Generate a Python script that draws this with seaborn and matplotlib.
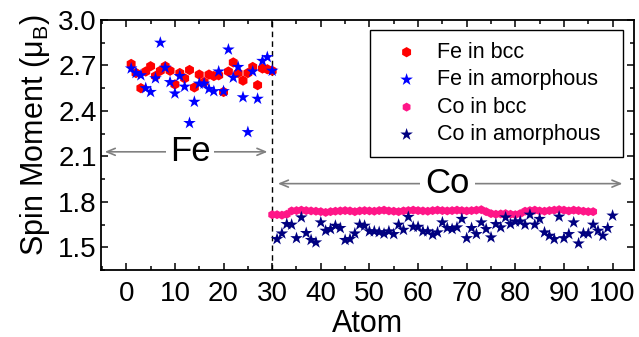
import matplotlib
matplotlib.use('Agg')
import matplotlib.pyplot as plt
import seaborn as sns
from matplotlib.ticker import MultipleLocator

# ---------------- data ----------------
fe_atoms = list(range(1, 31))
fe_bcc = [2.71, 2.65, 2.55, 2.66, 2.695, 2.63, 2.665, 2.695, 2.665, 2.575,
          2.65, 2.615, 2.67, 2.555, 2.64, 2.59, 2.64, 2.63, 2.635, 2.525,
          2.66, 2.72, 2.65, 2.60, 2.65, 2.69, 2.57, 2.68, 2.675, 2.665]
fe_amor = [2.68, 2.65, 2.635, 2.55, 2.525, 2.615, 2.85, 2.685, 2.59, 2.515,
           2.63, 2.56, 2.32, 2.46, 2.58, 2.58, 2.545, 2.53, 2.66, 2.53,
           2.805, 2.62, 2.69, 2.49, 2.26, 2.66, 2.48, 2.73, 2.755, 2.665]

co_bcc_atoms = list(range(30, 97))
co_bcc = [1.715, 1.715, 1.712, 1.718, 1.74, 1.742, 1.745, 1.742, 1.74, 1.738,
          1.735, 1.73, 1.735, 1.738, 1.74, 1.742, 1.74, 1.735, 1.74, 1.742,
          1.74, 1.738, 1.742, 1.745, 1.74, 1.738, 1.735, 1.74, 1.742, 1.745,
          1.742, 1.74, 1.738, 1.742, 1.745, 1.742, 1.74, 1.742, 1.745, 1.742,
          1.74, 1.742, 1.745, 1.748, 1.735, 1.722, 1.718, 1.72, 1.722, 1.718,
          1.715, 1.722, 1.738, 1.742, 1.745, 1.74, 1.738, 1.742, 1.745, 1.748,
          1.745, 1.74, 1.745, 1.742, 1.738, 1.735, 1.735]

co_amor_atoms = list(range(31, 101))
co_amor = [1.554, 1.591, 1.653, 1.649, 1.56, 1.697, 1.594, 1.548, 1.532, 1.664,
           1.609, 1.62, 1.642, 1.627, 1.548, 1.554, 1.591, 1.649, 1.642, 1.605,
           1.605, 1.60, 1.59, 1.605, 1.587, 1.649, 1.615, 1.70, 1.635, 1.635,
           1.605, 1.605, 1.583, 1.598, 1.664, 1.627, 1.62, 1.631, 1.687, 1.56,
           1.627, 1.587, 1.664, 1.62, 1.565, 1.653, 1.631, 1.697, 1.653, 1.67,
           1.67, 1.649, 1.715, 1.649, 1.687, 1.598, 1.576, 1.554, 1.702, 1.56,
           1.587, 1.664, 1.525, 1.591, 1.591, 1.649, 1.609, 1.576, 1.627, 1.709]

series_labels = ['Fe in bcc', 'Fe in amorphous', 'Co in bcc', 'Co in amorphous']
x_ticks = [0, 10, 20, 30, 40, 50, 60, 70, 80, 90, 100]
y_ticks = [1.5, 1.8, 2.1, 2.4, 2.7, 3.0]
region_labels = ['Fe', 'Co']

# ---------------- style ----------------
sns.set_style('ticks')
plt.rcParams['font.family'] = ['Liberation Sans', 'DejaVu Sans']
plt.rcParams['mathtext.fontset'] = 'custom'
plt.rcParams['mathtext.rm'] = 'Liberation Sans'
plt.rcParams['mathtext.it'] = 'Liberation Sans:italic'
plt.rcParams['text.color'] = 'black'
plt.rcParams['axes.labelcolor'] = 'black'
plt.rcParams['xtick.color'] = 'black'
plt.rcParams['ytick.color'] = 'black'

fig = plt.figure(figsize=(6.39, 3.37), dpi=100)
W, H = 639, 337
L, R, T, B = 101, 634, 20, 270
ax = fig.add_axes([L / W, 1 - B / H, (R - L) / W, (B - T) / H])

sns.scatterplot(x=fe_atoms, y=fe_bcc, marker='h', color='#ff0000', s=55,
                edgecolor='none', label=series_labels[0], ax=ax, zorder=3)
sns.scatterplot(x=fe_atoms, y=fe_amor, marker='*', color='#0000ff', s=90,
                edgecolor='none', label=series_labels[1], ax=ax, zorder=4)
sns.scatterplot(x=co_bcc_atoms, y=co_bcc, marker='h', color='#ff1688', s=42,
                edgecolor='none', label=series_labels[2], ax=ax, zorder=3)
sns.scatterplot(x=co_amor_atoms, y=co_amor, marker='*', color='#000080', s=90,
                edgecolor='none', label=series_labels[3], ax=ax, zorder=4)

ax.set_xlim(-5.2, 104.4)
ax.set_ylim(1.35, 3.0)
ax.set_xticks(x_ticks)
ax.set_yticks(y_ticks)
ax.set_yticklabels([f'{v:.1f}' for v in y_ticks])
ax.xaxis.set_minor_locator(MultipleLocator(5))
ax.yaxis.set_minor_locator(MultipleLocator(0.15))
ax.tick_params(which='both', direction='in', top=True, right=True,
               width=1.1, colors='black', labelcolor='black', labelsize=20)
ax.tick_params(axis='x', which='both', pad=8)
ax.tick_params(axis='y', which='both', pad=3)
ax.tick_params(which='major', length=5)
ax.tick_params(which='minor', length=3)
for sp in ax.spines.values():
    sp.set_visible(True)
    sp.set_linewidth(1.3)
    sp.set_color('black')

ax.set_xlabel('Atom', fontsize=22, labelpad=1, color='black')
ax.set_ylabel('Spin Moment (μ$_\\mathrm{B}$)', fontsize=22, color='black')
ax.yaxis.set_label_coords(-0.092, 0.54)

ax.axvline(30, color='black', lw=1.0, ls=(0, (4, 3)), zorder=2)

# region arrows
arrow_kw = dict(arrowstyle='<->,head_length=0.6,head_width=0.25', color='#808080', lw=1.2)
ax.annotate('', xy=(-5.0, 2.13), xytext=(29.6, 2.13), arrowprops=arrow_kw, zorder=1)
ax.text(13.1, 2.13, region_labels[0], fontsize=25, ha='center', va='center',
        color='black', bbox=dict(facecolor='white', edgecolor='none', pad=3), zorder=2)
ax.annotate('', xy=(30.6, 1.92), xytext=(102.6, 1.92), arrowprops=arrow_kw, zorder=1)
ax.text(66.0, 1.92, region_labels[1], fontsize=25, ha='center', va='center',
        color='black', bbox=dict(facecolor='white', edgecolor='none', pad=4), zorder=2)

leg = ax.legend(loc='upper left', bbox_to_anchor=(0.5047, 0.0, 0.4747, 0.96),
                mode='expand', borderaxespad=0, fontsize=15.5, frameon=True,
                fancybox=False, framealpha=1, edgecolor='black',
                handlelength=2.3, handletextpad=0.25, labelspacing=0.3,
                borderpad=0.55)
leg.get_frame().set_linewidth(1.0)
for t in leg.get_texts():
    t.set_color('black')

fig.savefig('out.png', dpi=100)
